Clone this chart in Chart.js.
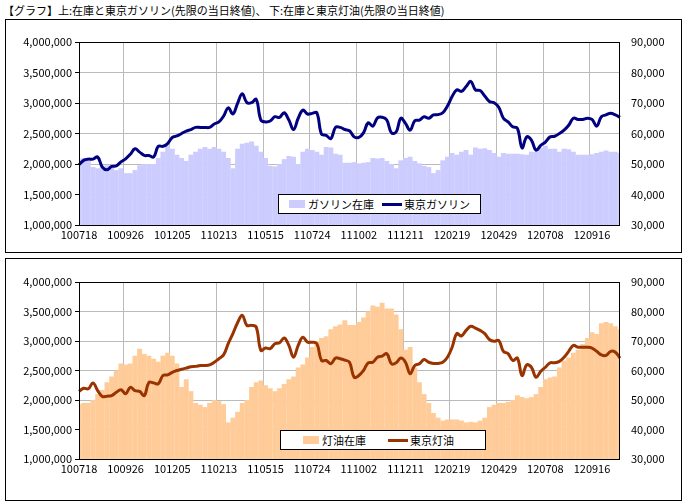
<!DOCTYPE html>
<html><head><meta charset="utf-8">
<script src="https://cdn.jsdelivr.net/npm/chart.js@4/dist/chart.umd.min.js"></script>
<style>
body{margin:0;background:#fff;width:690px;height:503px;position:relative;font-family:"Noto Sans CJK JP","Liberation Sans",sans-serif;overflow:hidden}
.box{position:absolute;left:5px;width:677px;border:1px solid #000;box-sizing:border-box}
#t{position:absolute;left:3px;top:2px;font-size:11px;color:#000;white-space:nowrap}
.leg{position:absolute;background:#fff;border:1px solid #000;font-size:11px;display:flex;align-items:center;box-sizing:border-box;white-space:nowrap}
.sw{display:inline-block;width:16px;height:8px;margin:0 3px 0 10px}
.ln{display:inline-block;width:20px;height:3px;margin:0 2px 0 8px}
</style></head><body>
<div id="t">【グラフ】上:在庫と東京ガソリン(先限の当日終値)、 下:在庫と東京灯油(先限の当日終値)</div>
<div class="box" style="top:19px;height:234px"><canvas id="c1"></canvas></div>
<div class="box" style="top:258px;height:243px"><canvas id="c2"></canvas></div>
<div class="leg" style="left:278px;top:194px;width:203px;height:20px"><span class="sw" style="background:#ccccff"></span>ガソリン在庫<span class="ln" style="background:#000080"></span>東京ガソリン</div>
<div class="leg" style="left:280px;top:430px;width:206px;height:20px"><span class="sw" style="background:#ffcc99;margin-left:22px"></span>灯油在庫<span class="ln" style="background:#993300;margin-left:22px"></span>東京灯油</div>
<script>
const tickLabels=["100718","100926","101205","110213","110515","110724","111002","111211","120219","120429","120708","120916"];
const gasPrice=[49.8,51.2,51.6,51.6,52.3,49,48.1,49.2,49.4,50.7,51.7,53.2,55,53.9,52.8,52.8,52.3,55.8,55.8,56.7,58.7,59.2,60,60.8,61.3,62,62,62,62,63.1,63.8,65.7,68.4,66.4,69.9,73,70.1,70.1,71.2,64.4,63.8,64.1,65.5,65.3,66.8,64.4,61.3,65,67.7,66.4,66.6,66.8,59.8,59.4,58.3,62,62,61.3,60.9,58.9,58.7,60.2,63.5,62.4,65.1,65.3,64.4,60.2,60.5,65,63.3,61.1,64.2,64.4,65.5,65,66.1,66.2,66.8,69,72.1,74.3,73.8,75.4,77.1,74.3,74.1,72.3,70.5,70.1,68.6,65,63.8,62.2,61.7,55.3,58.9,57.8,54.5,56.1,57.2,58.9,59.1,60,61.1,62.7,65,64.6,64.6,65,64.6,62.4,65.5,66.1,66.6,66.1,65.3];
const gasStock=[2.08,2.1,2.1,1.95,1.93,1.97,1.98,1.95,1.9,1.93,1.85,1.85,1.9,1.98,2.0,2.0,2.0,2.1,2.2,2.3,2.25,2.15,2.1,2.05,2.15,2.2,2.25,2.28,2.25,2.28,2.25,2.2,2.1,1.93,2.25,2.33,2.35,2.37,2.3,2.2,2.1,1.97,1.96,2.0,2.08,2.13,2.12,2.0,2.2,2.25,2.23,2.2,2.15,2.28,2.27,2.17,2.15,2.02,2.02,2.03,2.01,2.02,2.03,2.1,2.09,2.1,2.05,2.0,1.93,2.06,2.1,2.12,2.05,2.01,1.97,1.95,1.85,1.9,2.06,2.12,2.18,2.15,2.2,2.23,2.15,2.27,2.25,2.26,2.23,2.18,2.12,2.18,2.17,2.17,2.17,2.16,2.15,2.2,2.2,2.27,2.3,2.25,2.25,2.2,2.25,2.24,2.2,2.15,2.15,2.15,2.16,2.18,2.2,2.22,2.2,2.2,2.18];
const keroPrice=[52.9,54,53.8,55.8,53.2,51.2,51.3,51.5,52.6,53.5,52.1,54.3,53.2,52.9,51.5,56,55.8,55.5,58.3,58.5,59.4,60,60.4,60.8,61.3,61.4,61.7,61.7,61.9,62.8,64,65.3,69.1,72.5,76.2,78.7,75.3,75.3,74.7,66.8,67.6,67.4,69.1,69.4,71,68.5,64.5,68.5,71.3,69.6,69.6,69.1,63.4,63.4,62.3,64.2,64,63.5,62.8,57.7,58.3,60,62.6,62.8,64.5,64.9,65.7,62.3,62.6,64.2,62.8,58.9,61.7,62.3,63.7,62.8,62.4,62.4,62.8,64.5,67.9,72.5,71.7,73.6,75,74.4,73.6,72.5,70.5,69.9,70.2,66.5,65.7,63.4,64.2,58.3,61.9,61.1,57.7,59.7,61.1,62.6,62.6,63.1,64.5,66.5,68.5,67.9,67.9,67.9,67.6,66.5,65.3,65.1,66.5,66.2,64.2];
const keroStock=[1.93,1.95,1.95,2.0,2.1,2.17,2.3,2.4,2.5,2.62,2.6,2.62,2.75,2.87,2.78,2.75,2.7,2.65,2.75,2.8,2.75,2.62,2.22,2.35,2.15,1.95,1.92,1.88,1.95,2.0,1.98,1.93,1.62,1.7,1.8,1.95,2.0,2.22,2.3,2.33,2.25,2.2,2.15,2.2,2.27,2.35,2.4,2.55,2.6,2.72,2.9,3.0,3.05,3.08,3.2,3.25,3.28,3.35,3.27,3.27,3.32,3.4,3.5,3.6,3.58,3.65,3.55,3.55,3.45,3.2,2.85,2.9,2.55,2.3,2.1,1.95,1.78,1.7,1.65,1.67,1.67,1.67,1.65,1.62,1.63,1.62,1.65,1.7,1.88,1.92,1.95,1.95,1.97,2.0,2.08,2.05,2.03,2.05,2.1,2.22,2.35,2.38,2.4,2.55,2.67,2.72,2.8,2.85,2.95,3.05,3.15,3.12,3.3,3.32,3.3,3.25,3.2];

const labels=gasPrice.map((_,i)=>i%10===0?tickLabels[i/10]:"");
const font={family:'"Noto Sans CJK JP","Liberation Sans",sans-serif',size:11};
const fmt=v=>Number(v).toLocaleString('en-US');
const border={id:'bd',afterDraw(c){const a=c.chartArea,x=c.ctx;x.save();x.strokeStyle='#000';x.lineWidth=1;x.strokeRect(a.left+0.5,a.top+0.5,a.width-1,a.height);x.restore();}};
function make(id,w,h,padTop,xH,stock,price,bc,lc){
  const cv=document.getElementById(id);cv.width=w;cv.height=h;cv.style.width=w+'px';cv.style.height=h+'px';
  new Chart(cv,{data:{labels,datasets:[
    {type:'line',data:price.map(v=>v*1000),yAxisID:'y2',borderColor:lc,borderWidth:3,pointRadius:0,tension:0.4,order:0},
    {type:'bar',data:stock.map(v=>v*1e6),yAxisID:'y',backgroundColor:bc,categoryPercentage:1,barPercentage:1.05,order:1}
  ]},options:{responsive:false,animation:false,layout:{padding:{top:padTop,left:0,right:0,bottom:0}},
    plugins:{legend:{display:false},tooltip:{enabled:false}},
    scales:{
      x:{offset:false,ticks:{autoSkip:false,maxRotation:0,font,color:'#000',padding:3},grid:{color:c=>c.index%10===0?'#bbb':'rgba(0,0,0,0)',drawTicks:false},border:{display:false},afterFit:s=>{s.height=xH;}},
      y:{position:'left',min:1000000,max:4000000,ticks:{stepSize:500000,callback:fmt,font,color:'#000'},grid:{color:'#bbb',drawTicks:true,tickLength:4,tickColor:'#000'},border:{display:false},afterFit:s=>{s.width=73;}},
      y2:{position:'right',min:30000,max:90000,ticks:{stepSize:10000,callback:fmt,font,color:'#000'},grid:{display:false,drawOnChartArea:false},border:{display:false},afterFit:s=>{s.width=61;}}
    }},plugins:[border]});
}
make('c1',675,232,22,27,gasStock,gasPrice,'#ccccff','#000080');
make('c2',675,241,23,41,keroStock,keroPrice,'#ffcc99','#993300');
</script></body></html>
